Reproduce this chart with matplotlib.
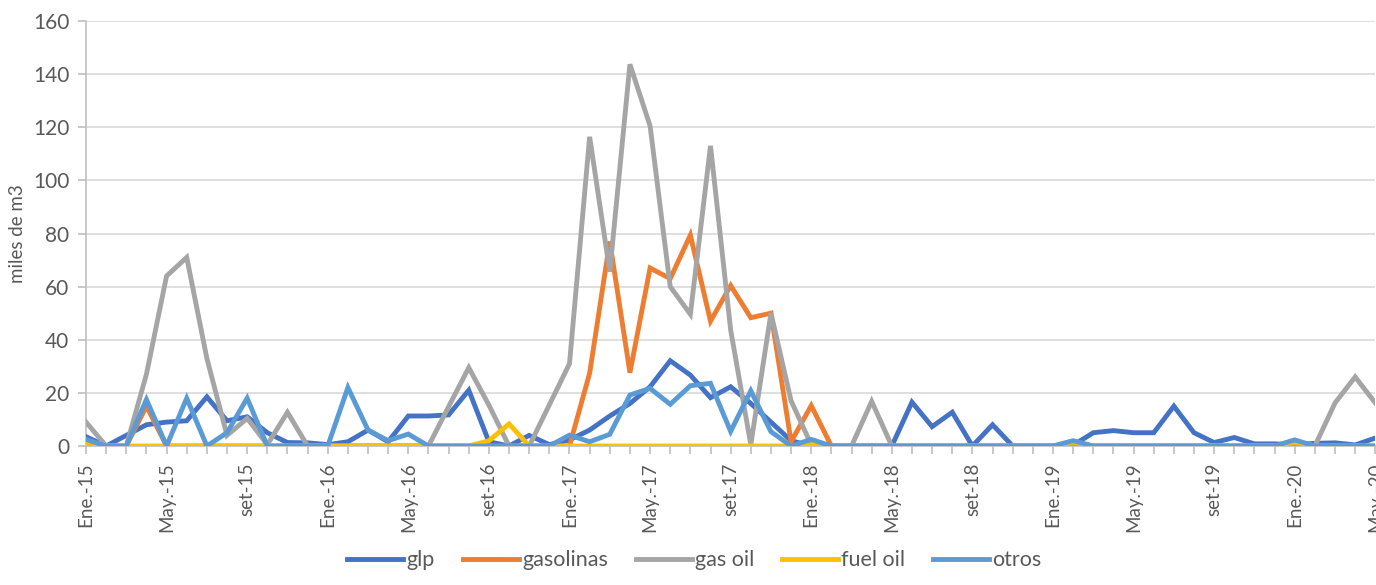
import matplotlib
matplotlib.use('Agg')
import matplotlib.pyplot as plt
import numpy as np

plt.rcParams['font.family'] = ['Lato', 'DejaVu Sans']

# meses Ene-15 .. May-20 (65 meses)
tick_labels = ['Ene.-15', 'May.-15', 'set-15', 'Ene.-16', 'May.-16', 'set-16',
               'Ene.-17', 'May.-17', 'set-17', 'Ene.-18', 'May.-18', 'set-18',
               'Ene.-19', 'May.-19', 'set-19', 'Ene.-20', 'May.-20']

glp = [3.5, 0, 4, 8, 9, 9.5, 18.5, 9.5, 11, 5, 1.3, 1.2, 0.5, 1.6, 6, 1.6,
       11.3, 11.3, 11.7, 21, 1.6, 0, 4, 0.5, 2.3, 6, 11.3, 16, 22.3, 32.1, 26.7, 18.2,
       22.3, 16, 9, 2, 0, 0, 0, 0, 0, 16.5, 7.3, 12.7, 0, 8, 0, 0,
       0, 0.3, 5, 5.8, 5, 5, 15, 5, 1.3, 3.2, 0.8, 0.8, 0.5, 1, 1.2, 0.4, 3]

gasolinas = [0, 0, 0, 15, 0, 0, 0, 0, 0, 0, 0, 0, 0, 0, 0, 0,
             0, 0, 0, 0, 0, 0, 0, 0, 0, 27.4, 77, 27.6, 67, 63, 79.4, 47,
             60.4, 48.3, 50, 1.6, 15.2, 0, 0, 0, 0, 0, 0, 0, 0, 0, 0, 0,
             0, 0, 0, 0, 0, 0, 0, 0, 0, 0, 0, 0, 0, 0, 0, 0, 0]

gas_oil = [9, 0, 0, 27, 64, 71, 33, 4, 10.4, 0.5, 12.7, 0, 0, 0, 0, 0,
           0, 0, 14.8, 29.5, 15.4, 0, 0, 15.5, 31, 116.4, 65.6, 143.7, 120.5, 60, 49.6, 113,
           43.7, 0.5, 50, 17, 0.5, 0, 0, 16.8, 0, 0, 0, 0, 0, 0, 0, 0,
           0, 0, 0, 0, 0, 0, 0, 0, 0, 0, 0, 0, 0, 0, 16.2, 26, 16.2]

fuel_oil = [0.8, 0, 0, 0, 0, 0, 0, 0, 0, 0, 0, 0, 0, 0, 0, 0,
            0, 0, 0, 0, 2, 8.3, 0, 0, 0, 0, 0, 0, 0, 0, 0, 0,
            0, 0, 0, 0, 0.5, 0, 0, 0, 0, 0, 0, 0, 0, 0, 0, 0,
            0, 1.5, 0, 0, 0, 0, 0, 0, 0, 0, 0, 0, 1.5, 0, 0, 0, 0]

otros = [2.5, 0, 0, 17.5, 0, 18, 0, 5, 18, 0, 0, 0, 0, 22, 6, 2,
         4.5, 0, 0, 0, 0, 0, 0, 0, 4.1, 1.6, 4.4, 19.2, 21.7, 15.7, 22.7, 23.6,
         5.5, 20.8, 5.4, 0, 2.5, 0, 0, 0, 0, 0, 0, 0, 0, 0, 0, 0,
         0, 2, 0, 0, 0, 0, 0, 0, 0, 0, 0, 0, 2.3, 0, 0, 0, 0]

series = [('glp', glp, '#4472C4'),
          ('gasolinas', gasolinas, '#ED7D31'),
          ('gas oil', gas_oil, '#A5A5A5'),
          ('fuel oil', fuel_oil, '#FFC000'),
          ('otros', otros, '#5B9BD5')]

txt = '#595959'
x = np.arange(len(glp))

fig = plt.figure(figsize=(13.76, 5.85), dpi=100)
ax = fig.add_axes([0.0625, 0.2376, 0.937, 0.7265])

for name, vals, col in series:
    ax.plot(x, vals, color=col, lw=3.5, label=name, solid_joinstyle='miter', zorder=3)

ax.set_xlim(0, len(glp) - 1)
ax.set_ylim(0, 160)
ax.set_yticks(np.arange(0, 161, 20))
ax.yaxis.grid(True, color='#D9D9D9', lw=1.2, zorder=0)
ax.set_xticks(np.arange(0, len(glp), 4))
ax.set_xticklabels(tick_labels, rotation=90)
ax.set_xticks(x, minor=True)

for s in ['top', 'right']:
    ax.spines[s].set_visible(False)
for s in ['left', 'bottom']:
    ax.spines[s].set_color('#BFBFBF')
    ax.spines[s].set_linewidth(1.2)

ax.tick_params(axis='y', colors='#BFBFBF', labelcolor=txt, labelsize=15, length=6, width=1.2, pad=6)
ax.tick_params(axis='x', which='both', colors='#BFBFBF', labelcolor=txt, labelsize=13.5, length=6, width=1.2, pad=6)

ax.set_ylabel('miles de m3', color=txt, fontsize=13.5, labelpad=5)

ax.legend(loc='upper center', bbox_to_anchor=(0.472, -0.2), ncol=5, frameon=False,
          fontsize=15.5, labelcolor=txt, handlelength=2.6, handletextpad=0.15, columnspacing=1.3)

fig.savefig('out.png', dpi=100)
